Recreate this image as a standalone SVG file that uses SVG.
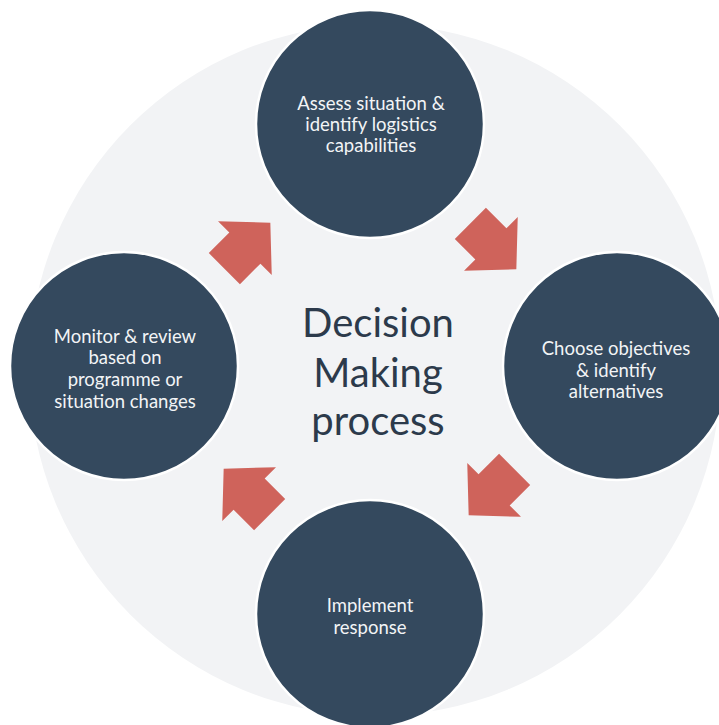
<svg xmlns="http://www.w3.org/2000/svg" width="719" height="725" viewBox="0 0 719 725">
  <defs>
    <style>
      .node { fill: #34495e; stroke: #ffffff; stroke-width: 2.5; }
      .label { font-family: Lato, "Open Sans", sans-serif; font-size: 18.5px; fill: #f2f4f6; text-anchor: middle; }
      .title { font-family: Lato, "Open Sans", sans-serif; font-size: 40px; fill: #2c3a4b; text-anchor: middle; }
      .arrow { fill: #cf635b; }
    </style>
    <path id="blk" d="M-32,-22 L-3,-22 L-3,-38 L33,0 L-3,38 L-3,22 L-32,22 Z"/>
  </defs>
  <rect width="719" height="725" fill="#ffffff"/>
  <circle id="background" cx="375" cy="370" r="346" fill="#f2f3f5"/>

  <g id="connectors">
    <use href="#blk" class="arrow" transform="translate(247,246) rotate(-45)"/>
    <use href="#blk" class="arrow" transform="translate(493,246) rotate(45)"/>
    <use href="#blk" class="arrow" transform="translate(492,492) rotate(135)"/>
    <use href="#blk" class="arrow" transform="translate(247,492) rotate(-135)"/>
  </g>

  <g id="node-assess">
    <circle class="node" cx="370" cy="124" r="114"/>
    <text class="label" x="371" y="110">Assess situation &amp;</text>
    <text class="label" x="371" y="131">identify logistics</text>
    <text class="label" x="371" y="152">capabilities</text>
  </g>

  <g id="node-choose">
    <circle class="node" cx="617" cy="366" r="114"/>
    <text class="label" x="616" y="355">Choose objectives</text>
    <text class="label" x="616" y="377">&amp; identify</text>
    <text class="label" x="616" y="398">alternatives</text>
  </g>

  <g id="node-implement">
    <circle class="node" cx="370" cy="614" r="114"/>
    <text class="label" x="370" y="612">Implement</text>
    <text class="label" x="370" y="634">response</text>
  </g>

  <g id="node-monitor">
    <circle class="node" cx="124" cy="366" r="114"/>
    <text class="label" x="125" y="343">Monitor &amp; review</text>
    <text class="label" x="125" y="364">based on</text>
    <text class="label" x="125" y="386">programme or</text>
    <text class="label" x="125" y="408">situation changes</text>
  </g>

  <g id="center-title">
    <text class="title" x="378" y="337">Decision</text>
    <text class="title" x="378" y="387">Making</text>
    <text class="title" x="378" y="435">process</text>
  </g>
</svg>
